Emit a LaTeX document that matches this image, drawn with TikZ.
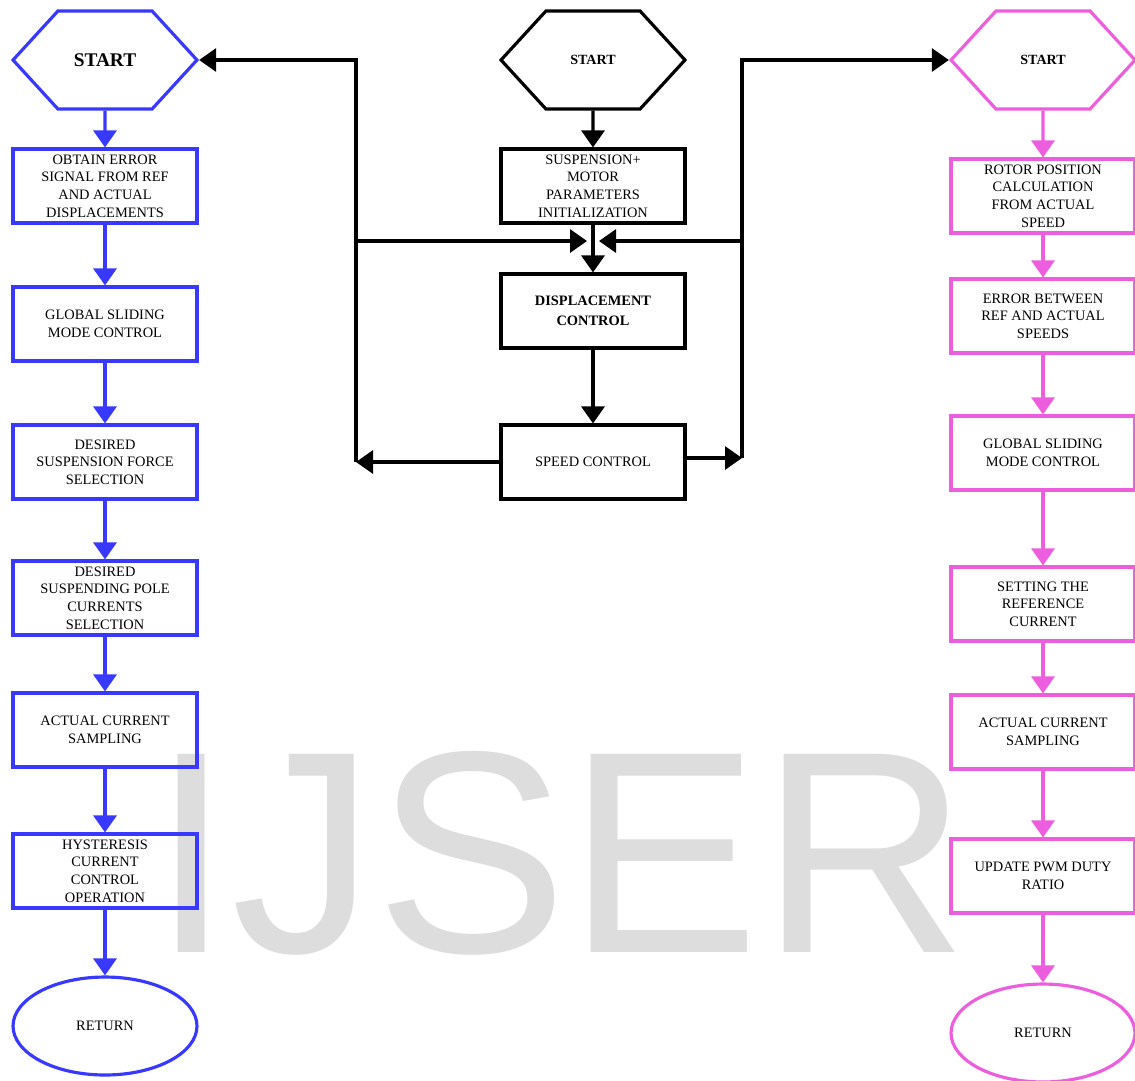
\documentclass[tikz,border=0pt]{standalone}
\usepackage{fontspec}
\setmainfont{Liberation Serif}
\newfontfamily\wmfont{Liberation Sans}
\usetikzlibrary{shapes.symbols,shapes.geometric,arrows.meta}
\definecolor{flowblue}{RGB}{56,56,255}
\definecolor{flowpink}{RGB}{236,94,222}
\definecolor{wmgray}{RGB}{221,221,221}
\begin{document}
\begin{tikzpicture}[x=0.02cm,y=-0.02cm,line width=1.8pt,
	every node/.style={font=\fontsize{8.2}{10}\selectfont,align=center,inner sep=0pt},
	box/.style={draw,rectangle,minimum width=3.68cm,minimum height=1.48cm},
	hexa/.style={draw,signal,signal to=west and east,signal pointer angle=95,
		minimum width=3.68cm,minimum height=1.96cm,font=\bfseries\fontsize{8}{10}\selectfont},
	oval/.style={draw,ellipse,minimum width=3.68cm,minimum height=1.96cm},
	flow/.style={-{Triangle[length=0.34cm,width=0.46cm]}}]
				\useasboundingbox (0,0) rectangle (1135,1080);
				% watermark
				\node[anchor=base west,text=wmgray,font=\wmfont\fontsize{164}{164}\selectfont] (wm) at (150,952) {IJSER};
				% left column: displacement control
				\begin{scope}[flowblue]
				\node[hexa,text=black,font=\bfseries\fontsize{11}{13}\selectfont] (sL) at (105,60) {START};
				\foreach \n/\y/\t in {l1/186/{OBTAIN ERROR\\SIGNAL FROM REF\\AND ACTUAL\\DISPLACEMENTS},
					l2/324/{GLOBAL SLIDING\\MODE CONTROL}, l3/462/{DESIRED\\SUSPENSION FORCE\\SELECTION},
					l4/598/{DESIRED\\SUSPENDING POLE\\CURRENTS\\SELECTION}, l5/730/{ACTUAL CURRENT\\SAMPLING},
					l6/871/{HYSTERESIS\\CURRENT\\CONTROL\\OPERATION}}{
					\node[box,text=black] (\n) at (105,\y) {\t};
				}
				\node[oval,text=black] (rL) at (105,1026) {RETURN};
				\foreach \a/\b in {sL/l1,l1/l2,l2/l3,l3/l4,l4/l5,l5/l6,l6/rL}{
					\draw[flow] (\a) -- (\b);
				}
				\end{scope}
				% right column: speed control
				\begin{scope}[flowpink]
				\node[hexa,text=black] (sR) at (1043,60) {START};
				\foreach \n/\y/\t in {r1/196/{ROTOR POSITION\\CALCULATION\\FROM ACTUAL\\SPEED},
					r2/316/{ERROR BETWEEN\\REF AND ACTUAL\\SPEEDS}, r3/453/{GLOBAL SLIDING\\MODE CONTROL},
					r4/604/{SETTING THE\\REFERENCE\\CURRENT}, r5/732/{ACTUAL CURRENT\\SAMPLING},
					r6/876/{UPDATE PWM DUTY\\RATIO}}{
					\node[box,text=black] (\n) at (1043,\y) {\t};
				}
				\node[oval,text=black] (rR) at (1043,1033) {RETURN};
				\foreach \a/\b in {sR/r1,r1/r2,r2/r3,r3/r4,r4/r5,r5/r6,r6/rR}{
					\draw[flow] (\a) -- (\b);
				}
				\end{scope}
				% middle column
				\node[hexa] (sM) at (593,60) {START};
				\node[box] (init) at (593,186) {SUSPENSION+\\MOTOR\\PARAMETERS\\INITIALIZATION};
				\node[box,font=\bfseries\fontsize{8.2}{11.4}\selectfont] (disp) at (593,311) {DISPLACEMENT\\CONTROL};
				\node[box] (speed) at (593,462) {SPEED CONTROL};
				\path (356,462) coordinate (lb) (742,458) coordinate (rb)
				(356,241) coordinate (lj) (742,241) coordinate (rj)
				(587,241) coordinate (jl) (599,241) coordinate (jr);
				\draw[flow] (sM) -- (init);
				\draw[flow] (init) -- (disp);
				\draw[flow] (disp) -- (speed);
				\draw[flow] (speed.west) -- (lb);
				\draw[flow] (speed.east|-rb) -- (rb);
				\draw[flow] (lb) |- (sL.east);
				\draw[flow] (rb) |- (sR.west);
				\draw[flow] (lj) -- (jl);
				\draw[flow] (rj) -- (jr);
			\end{tikzpicture}
\end{document}
